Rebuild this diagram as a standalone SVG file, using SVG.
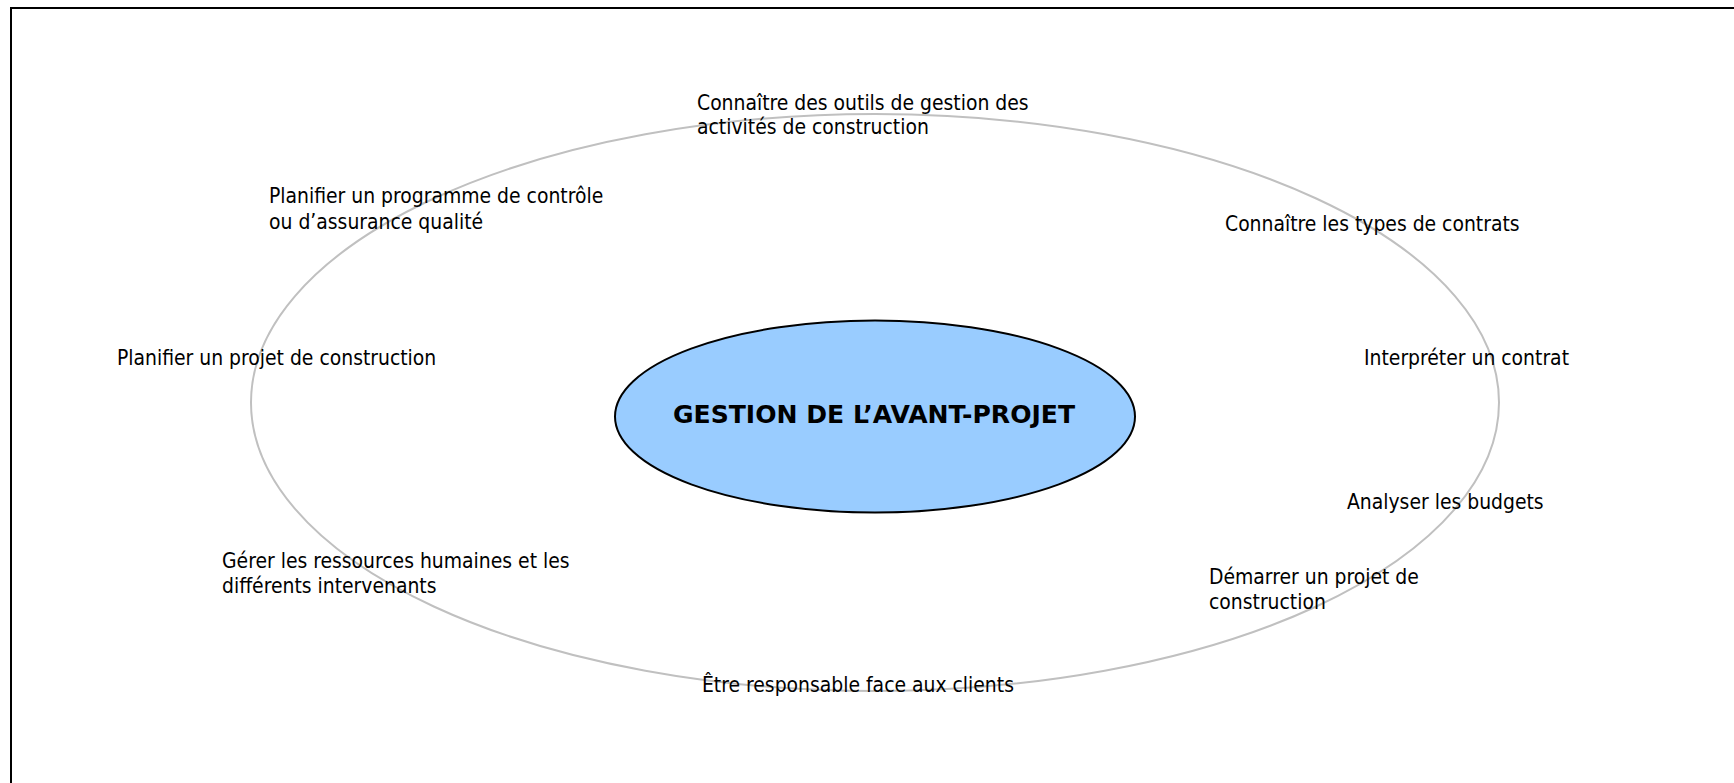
<svg xmlns="http://www.w3.org/2000/svg" width="1734" height="783" viewBox="0 0 1734 783">
<style>
.lbl{font-family:"DejaVu Sans Condensed","DejaVu Sans",sans-serif;font-stretch:condensed;font-size:20.9px;fill:#000}
.title{font-family:"DejaVu Sans",sans-serif;font-size:25.1px;font-weight:bold;fill:#000}
</style>
<rect width="1734" height="783" fill="#fff"/>
<g id="frame" fill="none" stroke="#000" stroke-width="2">
<line x1="10" y1="8" x2="1734" y2="8"/>
<line x1="11" y1="7" x2="11" y2="783"/>
</g>
<g id="connectors">
<ellipse cx="875" cy="402.5" rx="624" ry="288.5" fill="none" stroke="#c0c0c0" stroke-width="2"/>
</g>
<g id="center">
<ellipse cx="875" cy="416.5" rx="260" ry="96" fill="#99ccff" stroke="#000" stroke-width="2"/>
<text class="title" x="874" y="423" text-anchor="middle">GESTION DE L’AVANT-PROJET</text>
</g>
<g id="n-outils"><text class="lbl" x="697" y="110">Connaître des outils de gestion des</text><text class="lbl" x="697" y="134">activités de construction</text></g>
<g id="n-controle"><text class="lbl" x="269" y="203">Planifier un programme de contrôle</text><text class="lbl" x="269" y="229">ou d’assurance qualité</text></g>
<g id="n-types"><text class="lbl" x="1225" y="231">Connaître les types de contrats</text></g>
<g id="n-planifier"><text class="lbl" x="117" y="365">Planifier un projet de construction</text></g>
<g id="n-interpreter"><text class="lbl" x="1364" y="365">Interpréter un contrat</text></g>
<g id="n-budgets"><text class="lbl" x="1347" y="509">Analyser les budgets</text></g>
<g id="n-rh"><text class="lbl" x="222" y="568">Gérer les ressources humaines et les</text><text class="lbl" x="222" y="593">différents intervenants</text></g>
<g id="n-demarrer"><text class="lbl" x="1209" y="584">Démarrer un projet de</text><text class="lbl" x="1209" y="609">construction</text></g>
<g id="n-clients"><text class="lbl" x="702" y="692">Être responsable face aux clients</text></g>
</svg>
